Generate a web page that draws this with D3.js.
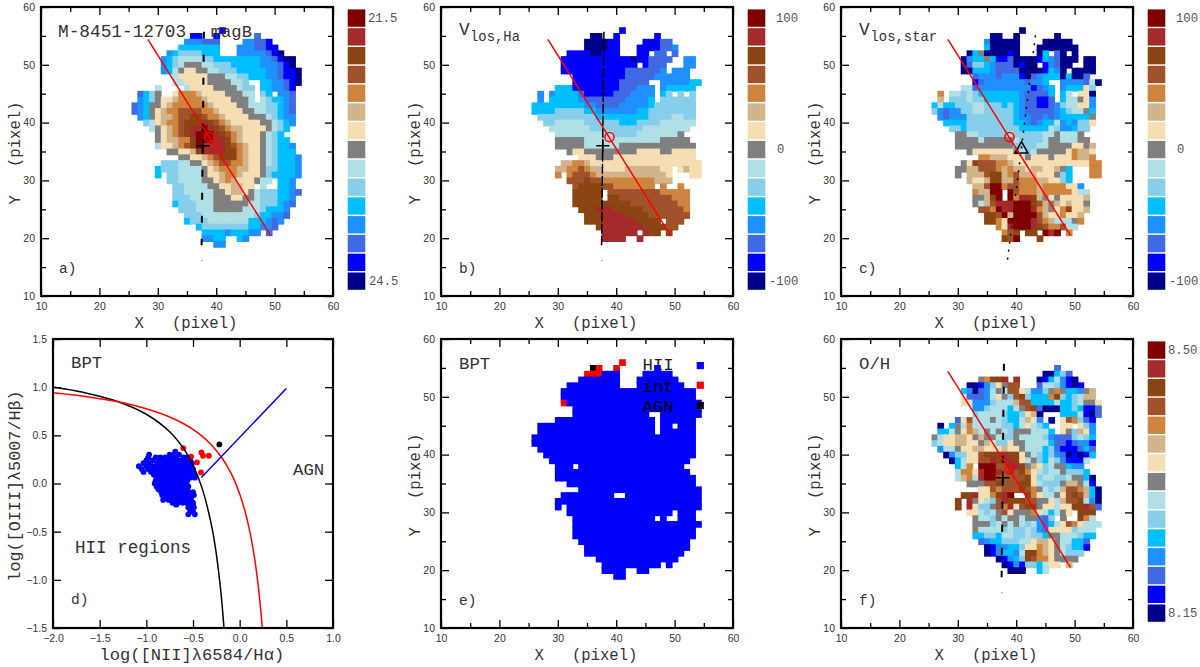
<!DOCTYPE html>
<meta charset="utf-8">
<style>
  body { margin: 0; background: #fff; }
  text { white-space: pre; }
</style>
<script src="https://d3js.org/d3.v7.min.js"></script>
<div id="chart"></div>
<script>

// colour levels, navy (a) up to maroon (o)
var levelKeys = "abcdefghijklmno".split("")
var levelColors = ["#00008b","#0000ff","#4169e1","#1e90ff","#00bfff","#87ceeb","#b0e0e6","#808080",
  "#f5deb3","#d2b48c","#cd853f","#a0522d","#8b4513","#a52a2a","#800000"]

// map rows from Y=56 down to Y=19, written as "firstX:cells", "." is an empty pixel
var magB = ["41:b","36:bb..b......c","35:dddccc....ddccb","34:eeeeeee...dddccbb","32:deffffeee...dddddcba",
  "31:defggggffeeeeeeeeddcbaa","31:defghhhggfffeeeeedddcba","31:deghiihhggfffeeeeeddcbba","33:giiiiihhhggffeeeddcbba",
  "33:ggiiiihhhhggf..eeddcba","30:g....giiiihhhhgff.eeddcb","27:cefh..ikkkjiiiihhhgg.fe.ddc","27:defhiijkkkkjiiiihhhg.gfeedc",
  "26:cdehhijkkkkkkjiiiihhgggffedc","26:cdehijkkllllkkjiiiihhggffedc","27:dehijjkllmmlkkjiiiihhhgfedd","28:fgijkklmmmnmlkjiiiiihhgfed",
  "29:ghijklmnnonmlkjjiiiihgfe","30:hijklmnooonmlkjiiihgfe","30:hijjkkmooonnmkjiiihgfee","30:giijklmonnnnmlkjiihgfeed",
  "32:hhiijmnnnnmmkjiihgfeee","34:hhiijklmmmkjiihgfeeed","31:fffgghhijkllkkjiihgfeeed","30:efffgggghijkkkjjiihffeeed",
  "30:e.ffgggghiijkkjiiihfeeeed","32:ffgggghhijkjiiihgg.eed","33:ffgggghhiijjii.g..eed","33:ffggggghhijjihgfffeedc",
  "33:fffgggghhhiihhgfffeed","33:efffggghhhhhhggfffedc","34:fffggghhhhhgggfeeed","35:fffgggggggggfeeddc",
  "35:efffgggggggeeedcd","37:effffffffeeddc","38:eeeedeeedd.c","38:ddee..ed","40:dd"]

var vHa = ["41:b","36:aa..b......b","35:aaaabb....bbbcc","35:aaaabb...bbbbccd","32:bbbbaabbb...bb.cc.c",
  "31:bbbbbbbbbbbbabbcccc..dd","31:bbbbbbbbbbbbb.bccc...dd","31:bbbbbbbbbbbccccccd.ddd","33:bbbbbbbbbcccccdddddd",
  "33:bbbbbbbbccccc..dddddee","30:eeebbbbbbbbcccddd.deeeee","27:d.deeeecbbbbbcccdddd.ef.f.f","27:d.eeeeedcccccccdddde.ffffff",
  "26:eeeeeeeeeddccccdddddefffffff","26:eeeefffffeedddddddeeffffffff","27:ffffffffffeeeeeeeeeffffggff","28:ffgggggffffffeeeffffgggggg",
  "29:gggggggfffffffffgggggggg","30:ggggggggggffffgggggggh","30:hhhhhggggggggggggghhhhh","30:hhhhhgggggghhhhhhhhhhhhh",
  "32:hiihhhhhhhhhiiiihhiiii","34:iiihhhiiiiiiiiiiiiii","31:jjkkjiiiiiiiiiiiiiiiiiii","30:jjkklkjjiiiijjjjjjii.ijii",
  "30:k.klllkjjjjjjjjjjjji...ii","32:lllmllkkkkkkkkkjjj","33:lmmmmllkkkkkkk.k..k","33:mmmmm.lllllllllkkkkk",
  "33:mmmmm.mmlllllllllkkk","33:mmmmmmmmmmllllllllkk","34:mmmnnnmmmmmlllllllk","35:mmmnnnnmmmmlllllll",
  "35:mmmnnnnnnmmmm.lll","37:mnnnnnnnmmmmll","38:nnnnnn.nmm.m","38:nnnn..n",""]

var vStar = ["41:a","36:aa..a......a","35:daaaaa....aaaaa","35:eaaaaa...aaaaaaa","32:aehaaaaba...ae.ca.a",
  "31:adeehebbcaaaabedcaaa.aa","31:acffedcccabaa.bdcaa..aa","31:aaeeedccccaaaabeda.aaaa","33:cdddcdddbacdeeeaeaac",
  "33:bcdddddddcdde..ddddcga","31:ggcdddddddddbcde.deeeif","27:k.ggfgfeeeeeeedcccce.eg.iia","27:j.fffgffeeeeeedccbbc.egghid",
  "26:egeefffggfffefedccbbcdfggiid","26:fdcddffggfffffedcccccdefgghe","27:dcdddffffffffeddccdcdeeeeeh","28:eeeeffffffffeedcdeegdedffi",
  "29:ffefffffffffeeeeegfddeff","30:hhggfffffgfffffgghgggh","30:hhhhghhhhhgffffghhggghh","30:hhhhhhhhhhffffgghhhhiihj",
  "32:hiiiiiiihgfghhhhhikjji","34:kkjjjiiihiiihiiikjjk","31:himlllkkjiiiiiiiiiiiiikk","30:hhjjlllkjkjjijjiijhe...kk",
  "30:h.jjjlmmjkljjjiiihfe...kk","32:jiijmmjjlkkkjjiife","33:jjlookllkkkjkkkkiid","33:kjjoo.olkkkjkkkkkigg",
  "33:hhjmo.oknnmjhihiiiij","33:hgjlnnnooomljhjijiih","34:llkonnooonkjhikmiij","35:mmlojooooljiikiij",
  "35:mmkioooonlkjggghk","37:kinooonmlkklgg","38:klm.mm.ono.k","38:mlo...m",""]

var oh = ["","47:c","45:aaefc","34:hkmmn.n...abegdba","32:aabdfihll...cggfdbab",
  "31:edacdghglligddfhkheedhj","31:icccdgihflmfeeekmfefgjj","31:iidddfgggjlleeeegeefghhi","33:ddfgggeghlmcaaaeefebbc",
  "33:fggggfeefija...eeegbac","30:cilggghgfeegjid.a.ilkfcb","27:a.ehgkgggggffegigfe..ii.ifd","27:eeghikjghghgfhhhggge.ihfjid",
  "26:hgiijjihjhhgffhggggfdcccfgfe","26:fgiijjiihjiffihhggggeccbcddb","27:dgghiijjiiijiihgggefcbbbcec","28:adffiilmmmnmmihgfefdcababe",
  "29:aegiillnmnnmighfegfdbbbg","30:egk.ooollnnmhjifghhedd","30:gkkinoonlmlmkigfgghfffe","30:gjkgnoolllllmifggffghhea",
  "32:hhhllmlllmmigfffhjjhgb","34:iilklllmlkhgfgjllkjea","31:mmniikmno..mkigghilmljea","30:m.nhigflnmmmllhhigjllmgda",
  "30:m.niffhlknilmmhiigiimmnlc","32:iigfghlihhhkigeghi.mmm","33:hggfhghhghhdcf.h..mkg","33:hhhfghghgfgdcegilkiggg",
  "33:hggggfgffgfdciiiifggg","33:eeffeggffgffehhgggfee","34:cdeefffggijjihggeec","35:abddeefiikjihgfeeb",
  "35:abdeedgmmkjihgfff","37:abdefmlkkihhhh","38:abdbffegii.j","39:aaa..eg",""]

// BPT class map, H=HII I=intermediate A=AGN
var bptMap = ["41:I","36:AI..I......H","35:IIIHHH....HHHHH","34:HHHHHHH...HHHHHHH","32:HHHHHHHHH...HHHHHHHH",
  "31:HHHHHHHHHHHHHHHHHHHHHHH","31:HHHHHHHHHHHHHHHHHHHHHHH","31:IHHHHHHHHHHHHHHHHHHHHHHH","33:HHHHHHHHHHHHHHHHHHHHHH",
  "33:HHHHHHHHHHHHH..HHHHHHH","30:HHHHHHHHHHHHHHHHH.HHHHHH","27:HHHHHHHHHHHHHHHHHHHH.HH.HHH","27:HHHHHHHHHHHHHHHHHHHH.HHHHHH",
  "26:HHHHHHHHHHHHHHHHHHHHHHHHHHHH","26:HHHHHHHHHHHHHHHHHHHHHHHHHHHH","27:HHHHHHHHHHHHHHHHHHHHHHHHHHH","28:HHHHHHHHHHHHHHHHHHHHHHHHHH",
  "29:HHHHHHHHHHHHHHHHHHHHHHHH","30:HHH.HHHHHHHHHHHHHHHHHH","30:HHHHHHHHHHHHHHHHHHHHHHH","30:HHHHHHHHHHHHHHHHHHHHHHHH",
  "32:HHHHHHHHHHHHHHHHHHHHHH","34:HHHHHHHHHHHHHHHHHHHHH","31:HHHHHHHHH..HHHHHHHHHHHHH","30:HHHHHHHHHHHHHHHHHHHHHHHHH",
  "30:H.HHHHHHHHHHHHHHHHHHHHHHH","32:HHHHHHHHHHHHHHHHHH.HHH","33:HHHHHHHHHHHHHH.H..HHH","33:HHHHHHHHHHHHHHHHHHHHHH",
  "33:HHHHHHHHHHHHHHHHHHHHH","33:HHHHHHHHHHHHHHHHHHHHH","34:HHHHHHHHHHHHHHHHHHH","35:HHHHHHHHHHHHHHHHHH",
  "35:HHHHHHHHHHHHHHHHH","37:HHHHHHHHHHHHHH","38:HHHHHHHHHH.H","38:HHHH..HH","40:HH"]

// BPT diagram points, [logOIII, list of logNII]
var hiiRows = [[.33,[-.69]],[.30,[-.97,-.75,-.70,-.65]],[.27,[-.98,-.90,-.85,-.80,-.74,-.68,-.60,-.56]],
  [.24,[-1.0,-.93,-.86,-.82,-.77,-.72,-.66,-.62,-.57,-.53]],[.21,[-1.03,-.96,-.88,-.84,-.79,-.75,-.70,-.64,-.59,-.55,-.51]],
  [.18,[-1.08,-1.0,-.94,-.90,-.85,-.80,-.76,-.71,-.66,-.61,-.57,-.53]],[.15,[-1.05,-.98,-.92,-.87,-.83,-.78,-.73,-.68,-.63,-.58,-.54,-.50]],
  [.12,[-1.03,-.95,-.89,-.84,-.80,-.75,-.70,-.65,-.60,-.55,-.50]],[.09,[-.92,-.87,-.82,-.77,-.72,-.67,-.62,-.57,-.52,-.49]],
  [.06,[-.89,-.84,-.79,-.74,-.69,-.64,-.59,-.53,-.48]],[.03,[-.90,-.85,-.80,-.75,-.70,-.65,-.60,-.56]],
  [0,[-.91,-.86,-.81,-.76,-.71,-.66,-.61,-.57]],[-.03,[-.89,-.84,-.79,-.74,-.69,-.64,-.59,-.55]],
  [-.06,[-.87,-.82,-.77,-.72,-.67,-.62,-.57]],[-.09,[-.84,-.79,-.74,-.69,-.64,-.59,-.54,-.50]],
  [-.12,[-.83,-.78,-.73,-.68,-.63,-.58,-.53,-.49]],[-.15,[-.78,-.73,-.68,-.63,-.58,-.52]],
  [-.17,[-.82,-.76,-.70,-.65,-.60,-.55]],[-.20,[-.72,-.66,-.61,-.56,-.50]],[-.22,[-.68,-.55,-.50]],
  [-.25,[-.55,-.49,-.51]],[-.29,[-.53,-.50]],[-.32,[-.55,-.48]]]
var intPoints = [[-.604,.368],[-.52,.28],[-.457,.22],[-.41,.323],[-.393,.288],[-.33,.288],[-.414,.115]]
var agnPoints = [[-.218,.406]]

var blackCurve = [[-2,1.002],[-1.75,.961],[-1.5,.906],[-1.25,.831],[-1,.719],[-.75,.538],[-.6,.362],[-.5,.191],[-.4,-.056],[-.3,-.443],[-.25,-.733],[-.2,-1.14],[-.168,-1.5]]
var redCurve = [[-2,.943],[-1.75,.917],[-1.5,.88],[-1.25,.838],[-1,.775],[-.75,.69],[-.6,.62],[-.5,.561],[-.4,.489],[-.3,.398],[-.2,.28],[-.1,.12],[-.05,.017],[0,-.108],[.05,-.262],[.1,-.458],[.15,-.716],[.2,-1.07],[.243,-1.5]]
var blueLine = [[-.41,.0625],[.5,.986]]

// lines over the maps, in pixel coordinates of the map
var redSlit = [[28.3,54.4],[49.3,20.5]]
var blackSlit = [[37.9,55.7],[37.5,18.8]]
var starSlit = [[43.3,55.1],[38.5,16.2]]
var center = [38.85,37.5]
var cross = [37.7,36]
var triangle = [40.9,35.4]

var xTicks = [10,20,30,40,50,60]
var xMinor = [15,25,35,45,55]
var bptXTicks = [-2,-1.5,-1,-0.5,0,0.5,1]
var bptYTicks = [-1.5,-1,-0.5,0,0.5,1,1.5]
var bptLegend = [["HII",55.4,"H"],["int",52,"I"],["AGN",48.5,"A"]]

var svg = d3.select("#chart").append("svg").attr("width",1200).attr("height",667)

var mono = "Liberation Mono"
var ink = "#333"
var levelColor = d3.scaleOrdinal().domain(levelKeys).range(levelColors)
var classColor = d3.scaleOrdinal().domain(["H","I","A"]).range(["#0000ff","#ff0000","#000000"])

function label(x,y,s,size,rot) {
  var t = svg.append("text").attr("x",x).attr("y",y).attr("font-family",mono).attr("font-size",size)
    .attr("fill",ink).text(s)
  if (rot) t.attr("text-anchor","middle").attr("transform",`rotate(-90 ${x} ${y})`)
  return t
}

function makeAxes(f,x,y,xt,yt,xm,ym,fmt,padLeft) {
  var g = svg.append("g")
  var major = 8, minor = 5
  var put = function(axis,tx,ty) {
    var a = g.append("g").attr("transform",`translate(${tx},${ty})`).call(axis)
    a.select(".domain").remove()
    a.selectAll("line").attr("stroke","#000").attr("stroke-width",1.3)
    a.selectAll("text").attr("font-family","Liberation Sans").attr("font-size",10.5).attr("fill",ink)
  }
  put(d3.axisBottom(x).tickValues(xt).tickSize(-major).tickPadding(7).tickFormat(fmt),0,f.y0)
  put(d3.axisLeft(y).tickValues(yt).tickSize(-major).tickPadding(padLeft).tickFormat(fmt),f.x0,0)
  put(d3.axisTop(x).tickValues(xt).tickSize(-major).tickFormat(""),0,f.y1)
  put(d3.axisRight(y).tickValues(yt).tickSize(-major).tickFormat(""),f.x1,0)
  if (xm) {
    put(d3.axisBottom(x).tickValues(xm).tickSize(-minor).tickFormat(""),0,f.y0)
    put(d3.axisTop(x).tickValues(xm).tickSize(-minor).tickFormat(""),0,f.y1)
    put(d3.axisLeft(y).tickValues(ym).tickSize(-minor).tickFormat(""),f.x0,0)
    put(d3.axisRight(y).tickValues(ym).tickSize(-minor).tickFormat(""),f.x1,0)
  }
  svg.append("rect").attr("x",f.x0).attr("y",f.y1).attr("width",f.x1-f.x0).attr("height",f.y0-f.y1)
    .attr("fill","none").attr("stroke","#000").attr("stroke-width",2.2)
}

function drawCells(x,y,rows,color) {
  var cells = []
  rows.forEach(function(r,i) {
    if (!r) return
    var p = r.split(":")
    p[1].split("").forEach(function(c,j) {
      if (c != ".") cells.push({X:+p[0]+j, Y:56-i, c:c})
    })
  })
  var w = Math.abs(x(1)-x(0)), h = Math.abs(y(1)-y(0))
  // a little overlap so no seams show between neighbours
  svg.append("g").selectAll("rect").data(cells).enter().append("rect")
    .attr("x",d => x(d.X-.5)).attr("y",d => y(d.Y+.5))
    .attr("width",w+.9).attr("height",h+.9)
    .attr("fill",d => color(d.c))
}

function colorbar(f,labels) {
  var band = d3.scaleBand().domain(levelKeys.slice().reverse()).range([f.y1+2.4,f.y0-6.2]).paddingInner(.077)
  var bx = f.x1+14.7
  svg.append("g").selectAll("rect").data(band.domain()).enter().append("rect")
    .attr("x",bx).attr("y",d => band(d)).attr("width",17.6).attr("height",band.bandwidth())
    .attr("fill",d => levelColor(d))
  labels.forEach(function(l) {
    label(f.x1+l[1],band(l[2])+band.bandwidth()/2+3.8,l[0],12.2).attr("fill","#555")
  })
}

function overlay(x,y,showSlit) {
  var line = d3.line().x(d => x(d[0])).y(d => y(d[1]))
  var g = svg.append("g").attr("fill","none")
  if (showSlit == "short") {
    g.append("path").attr("d",line(blackSlit)).attr("stroke","#000").attr("stroke-width",2).attr("stroke-dasharray","7 16")
  } else if (showSlit == "long") {
    g.append("path").attr("d",line(blackSlit)).attr("stroke","#000").attr("stroke-width",1.5).attr("stroke-dasharray","10 2")
  } else if (showSlit == "dots") {
    g.append("path").attr("d",line(starSlit)).attr("stroke","#000").attr("stroke-width",1.5).attr("stroke-dasharray","2 6")
  }
  if (showSlit != "dots") {
    g.append("rect").attr("x",x(37.5)-.5).attr("y",y(16.1)-.5).attr("width",1.5).attr("height",1).attr("fill","#888").attr("stroke","none")
    var cx = x(cross[0]), cy = y(cross[1])
    g.append("path").attr("d",`M${cx-6.5},${cy}H${cx+6.5}M${cx},${cy-6.5}V${cy+6.5}`).attr("stroke","#000").attr("stroke-width",1.5)
  } else {
    g.append("path").attr("d",d3.symbol(d3.symbolTriangle,72)())
      .attr("transform",`translate(${x(triangle[0])},${y(triangle[1])})`).attr("stroke","#000").attr("stroke-width",1.5)
  }
  g.append("path").attr("d",line(redSlit)).attr("stroke","#ff0000").attr("stroke-width",1.5)
  g.append("circle").attr("cx",x(center[0])).attr("cy",y(center[1])).attr("r",4.6).attr("stroke","#ff0000").attr("stroke-width",1.5)
}

function mapScales(f) {
  return {x: d3.scaleLinear().domain([10,60]).range([f.x0,f.x1]),
          y: d3.scaleLinear().domain([10,60]).range([f.y0,f.y1])}
}

function mapFrame(f,s,tag) {
  makeAxes(f,s.x,s.y,xTicks,xTicks,xMinor,xMinor,d3.format("d"),6)
  label(f.x0-21,(f.y0+f.y1)/2+1.5,"Y   (pixel)",15.6,true)
  label(f.x0+(f.x1-f.x0)/2-1-51.5,f.y0+32,"X   (pixel)",15.6)
  label(f.x0+18,f.y0-23,tag,14.5)
}

function mapPanel(f,rows,tag,slit,bar) {
  var s = mapScales(f)
  drawCells(s.x,s.y,rows,levelColor)
  overlay(s.x,s.y,slit)
  mapFrame(f,s,tag)
  if (bar) colorbar(f,bar)
}

// a)
var fa = {x0:41,x1:333,y0:296,y1:7}
mapPanel(fa,magB,"a)","short",[["21.5",35,"o"],["24.5",36,"a"]])
label(58,37,"M-8451-12703",17.8)
label(210.7,37,"magB",17.2)

// b)
var fb = {x0:441,x1:733,y0:296,y1:7}
mapPanel(fb,vHa,"b)","long",[["100",43,"o"],["0",44,"h"],["-100",36,"a"]])
label(459,35,"V",17.8)
label(470,40.5,"los,Ha",13.9)

// c)
var fc = {x0:841,x1:1133,y0:296,y1:7}
mapPanel(fc,vStar,"c)","dots",[["100",43,"o"],["0",44,"h"],["-100",36,"a"]])
label(859,35,"V",17.8)
label(870.5,40.5,"los,star",13.9)

// d) BPT diagram
var fd = {x0:53,x1:333,y0:628,y1:339}
var xd = d3.scaleLinear().domain([-2,1]).range([fd.x0,fd.x1])
var yd = d3.scaleLinear().domain([-1.5,1.5]).range([fd.y0,fd.y1])
var curve = d3.line().x(d => xd(d[0])).y(d => yd(d[1])).curve(d3.curveCatmullRom.alpha(.5))
var dots = svg.append("g")
var hiiPoints = []
hiiRows.forEach(r => r[1].forEach(v => hiiPoints.push([v,r[0]])))
var addDots = function(pts,col) {
  dots.append("g").selectAll("circle").data(pts).enter().append("circle")
    .attr("cx",d => xd(d[0])).attr("cy",d => yd(d[1])).attr("r",2.9).attr("fill",col)
}
addDots(hiiPoints,"#0000ff")
addDots(intPoints,"#ff0000")
addDots(agnPoints,"#000")
svg.append("path").attr("d",curve(blackCurve)).attr("fill","none").attr("stroke","#000").attr("stroke-width",1.5)
svg.append("path").attr("d",curve(redCurve)).attr("fill","none").attr("stroke","#ff0000").attr("stroke-width",1.5)
svg.append("path").attr("d",d3.line().x(d => xd(d[0])).y(d => yd(d[1]))(blueLine)).attr("fill","none").attr("stroke","#0000ff").attr("stroke-width",1.5)
makeAxes(fd,xd,yd,bptXTicks,bptYTicks,null,null,d3.format(".1f"),6)
label(20,486,"log([OIII]\u03bb5007/H\u03b2)",16.8,true)
label(99.5,660,"log([NII]\u03bb6584/H\u03b1)",17.1)
label(71,368,"BPT",17.4)
label(293,475,"AGN",17.4)
label(75,553,"HII regions",17.6)
label(71,604,"d)",14.5)

// e) BPT map, the HII word sits behind the pixels
var fe = {x0:441,x1:733,y0:628,y1:339}
var se = mapScales(fe)
label(642.5,370,"HII",17.4).attr("fill","#222")
drawCells(se.x,se.y,bptMap,classColor)
mapFrame(fe,se,"e)")
label(459,368.7,"BPT",17.4)
label(642.5,391.5,"int",17.4).attr("fill","#000")
label(642.5,411.5,"AGN",17.4).attr("fill","#000")
svg.append("g").selectAll("rect").data(bptLegend).enter().append("rect")
  .attr("x",d => se.x(54.4)-3.6).attr("y",d => se.y(d[1])-3.6).attr("width",7.2).attr("height",7.2)
  .attr("fill",d => classColor(d[2]))

// f)
var ff = {x0:841,x1:1133,y0:628,y1:339}
mapPanel(ff,oh,"f)","short",[["8.50",35,"o"],["8.15",35,"a"]])
label(859,368.7,"O/H",17.4)

</script>
